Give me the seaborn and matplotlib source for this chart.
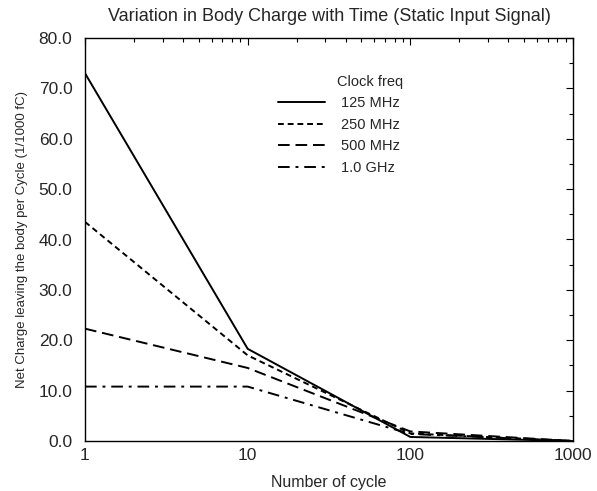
import matplotlib
matplotlib.use("Agg")
import matplotlib.pyplot as plt
import seaborn as sns
import pandas as pd
import numpy as np
from matplotlib.ticker import LogLocator, NullFormatter, MultipleLocator

sns.set_theme(style="white")
plt.rcParams['font.family'] = ['Liberation Sans', 'DejaVu Sans']

cycles = [1, 10, 100, 1000]
q_125 = [73.0, 18.3, 0.8, 0.0]
q_250 = [43.5, 17.0, 1.5, 0.0]
q_500 = [22.3, 14.5, 1.9, 0.0]
q_1g = [10.8, 10.8, 1.4, 0.0]
series = ["125 MHz", "250 MHz", "500 MHz", "1.0 GHz"]

df = pd.DataFrame({
    "cycle": cycles * 4,
    "charge": q_125 + q_250 + q_500 + q_1g,
    "freq": sum([[s] * 4 for s in series], []),
})

fig = plt.figure(figsize=(5.97, 4.91), dpi=100)
ax = fig.add_axes([85/597, 1 - 441/491, (573-85)/597, (441-38)/491])

dashes = {"125 MHz": "", "250 MHz": (3, 2), "500 MHz": (6, 3), "1.0 GHz": (6, 3, 1.5, 3)}
sns.lineplot(data=df, x="cycle", y="charge", hue="freq", style="freq",
             palette=["black"] * 4, dashes=dashes, linewidth=1.4, ax=ax,
             hue_order=series, style_order=series)

ax.set_xscale("log")
ax.set_xlim(1, 1000)
ax.set_ylim(0, 80)
ax.set_xticks([1, 10, 100, 1000])
ax.set_xticklabels(["1", "10", "100", "1000"])
ax.xaxis.set_minor_locator(LogLocator(base=10, subs=np.arange(2, 10)))
ax.xaxis.set_minor_formatter(NullFormatter())
ax.yaxis.set_minor_locator(MultipleLocator(5))
ax.set_yticks(np.arange(0, 81, 10))
ax.set_yticklabels([f"{v:.1f}" for v in np.arange(0, 81, 10)])
ax.tick_params(which="both", direction="in", top=True, right=True, color="black")
ax.tick_params(which="major", length=5, width=0.8, labelsize=12.5)
ax.tick_params(axis="x", which="major", pad=5)
ax.tick_params(axis="y", which="major", pad=9)
ax.tick_params(which="minor", length=3, width=0.8)
for s in ax.spines.values():
    s.set_color("black")
    s.set_linewidth(1.0)

ax.set_xlabel("Number of cycle", fontsize=11.5, labelpad=9)
ax.set_ylabel("Net Charge leaving the body per Cycle (1/1000 fC)", fontsize=9.5, labelpad=8)
ax.set_title("Variation in Body Charge with Time (Static Input Signal)", fontsize=13, pad=12)

leg = ax.legend(loc="upper left", bbox_to_anchor=((277-85)/488 - 0.012, (441-89)/403),
                frameon=False, fontsize=10.5, handlelength=3.2,
                labelspacing=0.51, handletextpad=1.1, borderpad=0)
ax.text((370-85)/488, (441-82)/403, "Clock freq", transform=ax.transAxes,
        ha="center", va="center", fontsize=10.5)

fig.savefig("out.png", dpi=100)
